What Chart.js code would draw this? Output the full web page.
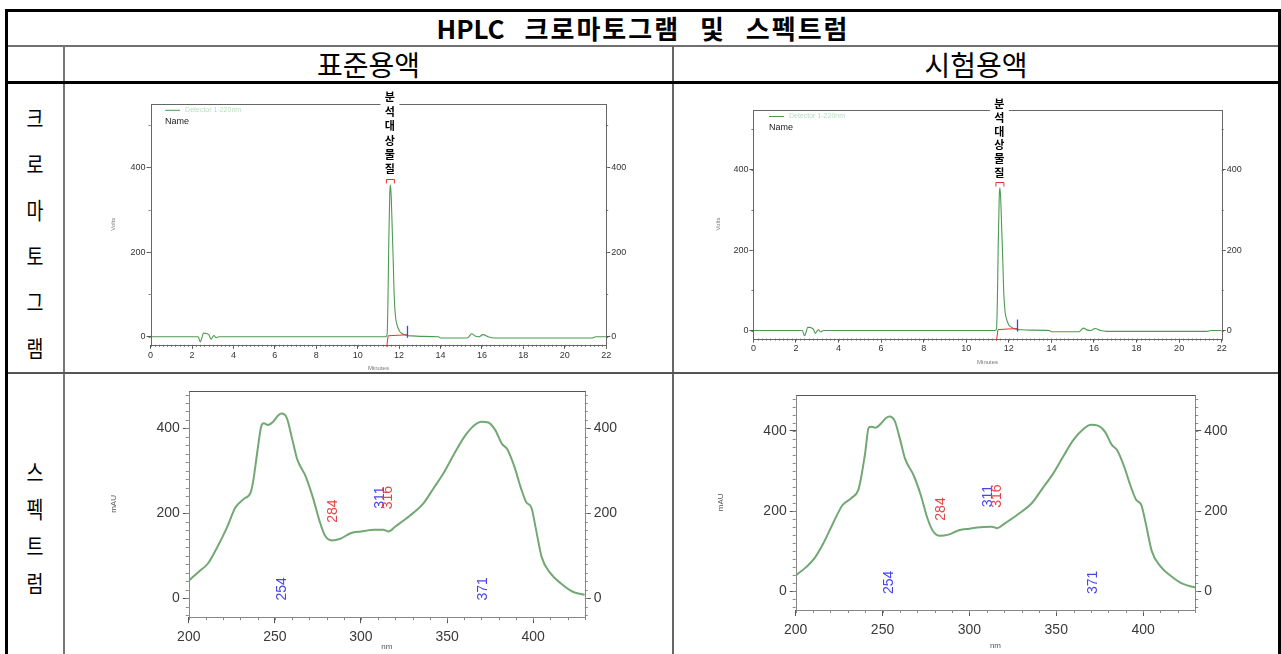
<!DOCTYPE html>
<html><head><meta charset="utf-8">
<script src="https://cdn.jsdelivr.net/npm/chart.js@4.4.1/dist/chart.umd.min.js"></script>
<style>
html,body{margin:0;padding:0;background:#fff;}
body{width:1281px;height:654px;overflow:hidden;position:relative;font-family:'Noto Sans CJK KR','Noto Sans',sans-serif;}
.l{position:absolute;}
canvas{position:absolute;}
.t{position:absolute;white-space:nowrap;color:#000;text-align:center;}
.r{position:absolute;left:20px;width:30px;height:30px;line-height:30px;text-align:center;font-size:23px;color:#000;transform:scaleX(0.8);}
</style></head><body>
<div class="l" style="left:5px;top:9px;width:1276px;height:3px;background:#000"></div>
<div class="l" style="left:5px;top:9px;width:3px;height:645px;background:#000"></div>
<div class="l" style="left:1278px;top:9px;width:3px;height:645px;background:#000"></div>
<div class="l" style="left:8px;top:45px;width:1270px;height:2px;background:#707070"></div>
<div class="l" style="left:63px;top:46px;width:2px;height:608px;background:#777"></div>
<div class="l" style="left:672px;top:46px;width:2px;height:608px;background:#666"></div>
<div class="l" style="left:8px;top:81px;width:1270px;height:3px;background:#000"></div>
<div class="l" style="left:8px;top:372px;width:1270px;height:2px;background:#555"></div>
<div class="t" style="left:5px;width:1276px;top:11px;height:34px;line-height:34px;font-size:26px;font-weight:bold;letter-spacing:2px;word-spacing:12px"><span style="letter-spacing:0">HPLC</span> 크로마토그램 및 스펙트럼</div>
<div class="t" style="left:65px;width:607px;top:47px;height:34px;line-height:34px;font-size:28px">표준용액</div>
<div class="t" style="left:674px;width:604px;top:47px;height:34px;line-height:34px;font-size:28px">시험용액</div>
<div class="r" style="top:102px">크</div>
<div class="r" style="top:148px">로</div>
<div class="r" style="top:194px">마</div>
<div class="r" style="top:240px">토</div>
<div class="r" style="top:286px">그</div>
<div class="r" style="top:332px">램</div>
<div class="r" style="top:456px">스</div>
<div class="r" style="top:493px">펙</div>
<div class="r" style="top:530px">트</div>
<div class="r" style="top:567px">럼</div>
<canvas id="c1" width="604" height="285" style="left:66px;top:86px"></canvas>
<canvas id="c2" width="602" height="285" style="left:675px;top:86px"></canvas>
<canvas id="c3" width="604" height="280" style="left:66px;top:374px"></canvas>
<canvas id="c4" width="602" height="280" style="left:675px;top:374px"></canvas>
<script>
// ---------- data ----------
const chromTime = [0, 2.3, 2.4, 2.48, 2.55, 2.65, 2.75, 2.82, 2.92, 3.0, 3.06, 3.15, 3.3,
  11.35, 11.42, 11.46, 11.5, 11.55, 11.58, 11.62, 11.67, 11.71, 11.76, 11.82, 11.9, 12.0, 12.1, 12.2, 12.4, 12.6, 13.0,
  13.9, 14.0, 15.3, 15.5, 15.7, 15.85, 16.05, 16.3, 16.6, 21.3, 21.5, 22];
const chromStd = [0, 0, -12, -2, 9, 8, 7, 4, -6, 0, 3, -2, 0,
  0, 5, 80, 220, 340, 358, 330, 250, 190, 100, 50, 28, 15, 9, 6, 3, 2, 1,
  0, -3, -3, 7, 1, 0, 5, 0, -3, -3, 0, 0];
const chromTest = [0, 0, -13, -3, 8, 8, 6, 3, -7, 0, 2, -3, 0,
  0, 4, 70, 210, 335, 355, 325, 245, 185, 95, 48, 27, 14, 9, 6, 3, 2, 1,
  0, -3, -3, 6, 1, 0, 5, 0, -2, -2, 0, 0];
const chromXTicks = [0, 2, 4, 6, 8, 10, 12, 14, 16, 18, 20, 22];
const chromYTicks = [0, 200, 400];
const peakName = '분석대상물질';
const legendName = 'Detector 1-220nm';
const integStd = [11.40, 12.40];
const integTest = [11.42, 12.40];

const specNm = [200, 206, 211, 216, 222, 227, 232, 236, 237.5, 240,
  242, 243.5, 246, 249, 252, 254, 257, 260, 263, 268,
  272, 276, 279, 283, 288, 294, 300, 308, 313, 316,
  320, 328, 336, 342, 348, 354, 360, 366, 370, 374,
  378, 382, 385, 389, 393, 396, 399, 401.5, 405, 410,
  416, 423, 430];
const specStd = [41, 63, 81, 116, 165, 213, 234, 250, 278, 351,
  404, 412, 408, 416, 431, 435, 424, 376, 327, 286,
  238, 181, 148, 136, 140, 153, 157, 161, 161, 157,
  169, 193, 222, 258, 295, 339, 380, 408, 416, 414,
  396, 363, 351, 311, 258, 226, 213, 165, 96, 59,
  35, 15, 8];
const specTest = [39, 60, 83, 120, 174, 215, 232, 252, 280, 345,
  408, 410, 408, 418, 432, 436, 425, 380, 330, 288,
  240, 180, 150, 138, 141, 152, 156, 160, 161, 157,
  168, 192, 220, 256, 292, 336, 378, 406, 415, 413,
  398, 365, 352, 312, 260, 228, 215, 170, 100, 62,
  38, 18, 9];
const specXTicks = [200, 250, 300, 350, 400];
const specYTicks = [0, 200, 400];
const peakNm = [254, 284, 311, 316, 371];
const peakKind = ['max', 'min', 'max', 'min', 'max'];

// ---------- drawing helpers ----------
const drawers = {};
const decor = {
  id: 'decor',
  afterDraw(chart) {
    const o = chart.options.plugins.decor || {};
    if (!o.mx) return;
    const ctx = chart.ctx, a = chart.chartArea, xs = chart.scales.x, ys = chart.scales.y;
    ctx.save();
    ctx.strokeStyle = o.tickColor; ctx.lineWidth = 1; ctx.beginPath();
    const n0 = Math.ceil(xs.min / o.mx - 1e-9), n1 = Math.floor(xs.max / o.mx + 1e-9);
    for (let i = n0; i <= n1; i++) { const p = Math.round(xs.getPixelForValue(i * o.mx)) + 0.5; ctx.moveTo(p, a.bottom); ctx.lineTo(p, a.bottom + o.mlx); }
    const m0 = Math.ceil(ys.min / o.my - 1e-9), m1 = Math.floor(ys.max / o.my + 1e-9);
    for (let i = m0; i <= m1; i++) { const p = Math.round(ys.getPixelForValue(i * o.my)) + 0.5; ctx.moveTo(a.left, p); ctx.lineTo(a.left - o.mly, p); ctx.moveTo(a.right, p); ctx.lineTo(a.right + o.mly, p); }
    ctx.stroke();
    const L = Math.round(a.left) + 0.5, T = Math.round(a.top) + 0.5, R = Math.round(a.right) + 0.5, B = Math.round(a.bottom) + 0.5;
    ctx.strokeStyle = o.frame; ctx.strokeRect(L, T, R - L, B - T);
    if (o.frameTop) { ctx.strokeStyle = o.frameTop; ctx.beginPath(); ctx.moveTo(L, T); ctx.lineTo(R, T); ctx.stroke(); }
    const d = drawers[chart.canvas.id];
    if (d) d(chart, ctx, a, xs, ys);
    ctx.restore();
  }
};
Chart.register(decor);

function makeOpts(c) {
  const tickFont = c.font;
  const yScale = (pos, w) => ({
    type: 'linear', position: pos, min: c.ymin, max: c.ymax,
    afterFit: s => { s.width = w; },
    afterBuildTicks: s => { s.ticks = c.yticks.map(v => ({ value: v })); },
    grid: { drawOnChartArea: false, drawTicks: true, tickLength: c.tly, color: c.tc, tickColor: c.tc },
    border: { display: false },
    ticks: { padding: c.pady, color: c.lc, font: tickFont, autoSkip: false, callback: v => String(v) }
  });
  return {
    responsive: false, animation: false, devicePixelRatio: 1,
    layout: { padding: { top: c.pt, left: 0, right: 0, bottom: 0 } },
    plugins: { legend: { display: false }, tooltip: { enabled: false }, decor: c.decor },
    scales: {
      x: {
        type: 'linear', min: c.xmin, max: c.xmax,
        afterFit: s => { s.height = c.hx; },
        afterBuildTicks: s => { s.ticks = c.xticks.map(v => ({ value: v })); },
        grid: { drawOnChartArea: false, drawTicks: true, tickLength: c.tlx, color: c.tc, tickColor: c.tc },
        border: { display: false },
        ticks: { padding: c.padx, color: c.lc, font: tickFont, maxRotation: 0, autoSkip: false, callback: v => String(v) }
      },
      y: yScale('left', c.wl),
      y2: yScale('right', c.wr)
    }
  };
}

const narrow = "'Liberation Sans Narrow','Liberation Sans',Arial,sans-serif";
const sans = "'Liberation Sans',Arial,sans-serif";

function chromChart(id, vals, integ, geo) {
  drawers[id] = function (chart, ctx, a, xs, ys) {
    let k = 0; vals.forEach((v, i) => { if (v > vals[k]) k = i; });
    const px = xs.getPixelForValue(chromTime[k]), py = ys.getPixelForValue(vals[k]);
    const x0 = xs.getPixelForValue(integ[0]), x1 = xs.getPixelForValue(integ[1]), y0 = ys.getPixelForValue(0);
    ctx.lineWidth = 1;
    ctx.strokeStyle = '#e83030'; ctx.beginPath(); ctx.moveTo(x0, y0 + 10); ctx.lineTo(x0 + 1.5, y0 - 1); ctx.lineTo(x1, y0 - 2); ctx.stroke();
    ctx.strokeStyle = '#2a4cff'; ctx.lineWidth = 1.3; ctx.beginPath(); ctx.moveTo(Math.round(x1) + 0.5, y0 + 1); ctx.lineTo(Math.round(x1) + 0.5, y0 - 11); ctx.stroke();
    ctx.lineWidth = 1;
    ctx.strokeStyle = '#e83030'; const bt = Math.round(py - 6) + 0.5;
    ctx.beginPath(); ctx.moveTo(px - 4, bt + 4); ctx.lineTo(px - 4, bt); ctx.lineTo(px + 4, bt); ctx.lineTo(px + 4, bt + 4); ctx.stroke();
    // gap in frame + vertical peak name
    ctx.fillStyle = '#fff'; ctx.fillRect(px - 10, a.top - 3, 19, 6);
    ctx.fillStyle = '#000'; ctx.font = "bold 11px 'Noto Sans CJK KR'"; ctx.textAlign = 'center'; ctx.textBaseline = 'middle';
    [...peakName].forEach((ch, i) => ctx.fillText(ch, px - 0.5, a.top + geo.labTop + i * geo.labSp));
    // legend
    ctx.strokeStyle = '#4c9b52'; ctx.beginPath(); ctx.moveTo(a.left + geo.lgx, a.top + geo.lgy + 0.5); ctx.lineTo(a.left + geo.lgx + 15, a.top + geo.lgy + 0.5); ctx.stroke();
    ctx.textAlign = 'left'; ctx.font = "7px " + sans; ctx.fillStyle = '#b9dcc0';
    ctx.fillText(legendName, a.left + geo.lgx + 20, a.top + geo.lgy + 0.5);
    ctx.font = "9px " + narrow; ctx.fillStyle = '#222';
    ctx.fillText('Name', a.left + geo.lgx, a.top + geo.lgy + 12);
    // axis titles
    ctx.fillStyle = '#777'; ctx.font = "6px " + sans; ctx.textAlign = 'center';
    ctx.fillText('Minutes', (a.left + a.right) / 2, a.bottom + geo.mint);
    ctx.save(); ctx.translate(a.left - geo.volt, (a.top + a.bottom) / 2); ctx.rotate(-Math.PI / 2); ctx.fillText('Volts', 0, 0); ctx.restore();
  };
  const pts = chromTime.map((t, i) => ({ x: t, y: vals[i] }));
  new Chart(document.getElementById(id), {
    type: 'scatter',
    data: { datasets: [{ data: pts, showLine: true, borderColor: '#4c9b52', borderWidth: 1.1, pointRadius: 0, cubicInterpolationMode: 'monotone' }] },
    options: makeOpts({
      xmin: 0, xmax: 22, ymin: geo.ymin, ymax: geo.ymax, xticks: chromXTicks, yticks: chromYTicks,
      wl: geo.wl, wr: geo.wr, pt: geo.pt, hx: geo.hx, tlx: 4, tly: 4, padx: 1, pady: 1,
      tc: '#555', lc: '#333', font: { family: narrow, size: 9 },
      decor: { mx: 0.2, my: 100, mlx: 2, mly: 2, tickColor: '#777', frame: '#666' }
    })
  });
}

function specChart(id, vals, geo) {
  drawers[id] = function (chart, ctx, a, xs, ys) {
    const labelAt = { 254: 22, 284: 205, 311: 237, 316: 237, 371: 22 };
    ctx.font = "14px " + sans; ctx.textAlign = 'center'; ctx.textBaseline = 'middle';
    peakNm.forEach((nm, i) => {
      ctx.fillStyle = peakKind[i] === 'max' ? '#4646e6' : '#e64646';
      ctx.save(); ctx.translate(xs.getPixelForValue(nm), ys.getPixelForValue(labelAt[nm])); ctx.rotate(-Math.PI / 2);
      ctx.fillText(String(nm), 0, 0); ctx.restore();
    });
    ctx.fillStyle = '#555'; ctx.font = "8px " + sans;
    ctx.fillText('nm', (a.left + a.right) / 2, a.bottom + geo.nmt);
    ctx.save(); ctx.translate(a.left - 75, (a.top + a.bottom) / 2); ctx.rotate(-Math.PI / 2); ctx.fillText('mAU', 0, 0); ctx.restore();
  };
  const pts = specNm.map((n, i) => ({ x: n, y: vals[i] }));
  new Chart(document.getElementById(id), {
    type: 'scatter',
    data: { datasets: [{ data: pts, showLine: true, borderColor: '#72a874', borderWidth: 2, pointRadius: 0, cubicInterpolationMode: 'monotone' }] },
    options: makeOpts({
      xmin: 200, xmax: 430, ymin: geo.ymin, ymax: geo.ymax, xticks: specXTicks, yticks: specYTicks,
      wl: geo.wl, wr: geo.wr, pt: geo.pt, hx: geo.hx, tlx: 6, tly: 6, padx: 6, pady: 3,
      tc: '#555', lc: '#3a3a3a', font: { family: sans, size: 14 },
      decor: { mx: 10, my: 20, mlx: 3, mly: 3, tickColor: '#888', frame: '#888', frameTop: '#555' }
    })
  });
}

chromChart('c1', chromStd, integStd, { ymin: -19, ymax: 550, wl: 84.6, wr: 63.8, pt: 17.8, hx: 26.2, labTop: -6.5, labSp: 14.4, lgx: 14.5, lgy: 6, mint: 24, volt: 37 });
chromChart('c2', chromTest, integTest, { ymin: -20, ymax: 549, wl: 78.4, wr: 55.3, pt: 23.6, hx: 32.4, labTop: -5.8, labSp: 13.8, lgx: 15.6, lgy: 6.4, mint: 23.4, volt: 35.4 });
specChart('c3', specStd, { ymin: -45, ymax: 489, wl: 122.8, wr: 85.2, pt: 16.7, hx: 36.8, nmt: 30 });
specChart('c4', specTest, { ymin: -47, ymax: 490, wl: 120.7, wr: 81.8, pt: 20.8, hx: 44, nmt: 35.5 });
</script>
</body></html>
